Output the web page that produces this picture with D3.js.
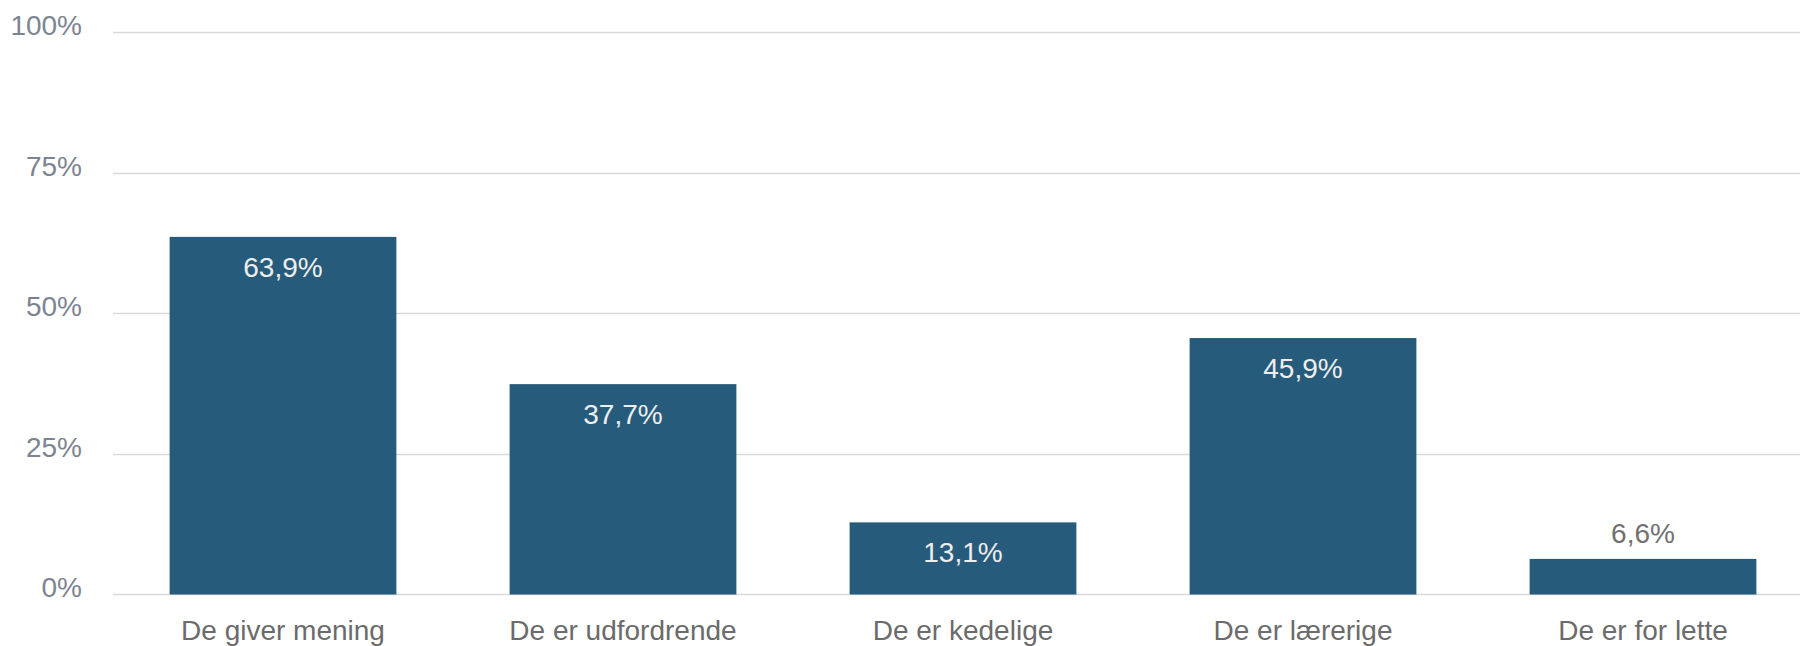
<!DOCTYPE html>
<html>
<head>
<meta charset="utf-8">
<script src="https://cdn.jsdelivr.net/npm/d3@7"></script>
<style>
html,body{margin:0;padding:0;background:#fff;}
svg{display:block;font-family:"Liberation Sans",Arial,sans-serif;}
</style>
</head>
<body>
<svg id="chart" width="1800" height="646"></svg>
<script>
const categories = ["De giver mening","De er udfordrende","De er kedelige","De er lærerige","De er for lette"];
const values = [63.9, 37.7, 13.1, 45.9, 6.6];
const valueLabels = ["63,9%","37,7%","13,1%","45,9%","6,6%"];
const yTicks = [0, 25, 50, 75, 100];
const yTickLabels = ["0%","25%","50%","75%","100%"];

const svg = d3.select("#chart");
const plotLeft = 113, plotRight = 1800, plotTop = 32, plotBottom = 594;
const barOffset = 2;

const x = d3.scaleBand().domain(categories).range([plotLeft, plotLeft + 5*340]).paddingInner(0.333).paddingOuter(0.1665);
const y = d3.scaleLinear().domain([0,100]).range([plotBottom, plotTop]);

// gridlines
svg.append("g").selectAll("line").data(yTicks).join("line")
  .attr("x1", plotLeft).attr("x2", plotRight)
  .attr("y1", d => Math.round(y(d)) + 0.5).attr("y2", d => Math.round(y(d)) + 0.5)
  .attr("stroke", "#d9d9d9").attr("stroke-width", 1.5);

// y tick labels
svg.append("g").selectAll("text").data(yTicks).join("text")
  .attr("x", 82).attr("y", d => y(d) + 3)
  .attr("text-anchor", "end")
  .attr("font-size", 28)
  .attr("fill", "#7d8491")
  .text((d,i) => yTickLabels[i]);

// bars
svg.append("g").selectAll("rect").data(values).join("rect")
  .attr("x", (d,i) => x(categories[i]))
  .attr("width", x.bandwidth())
  .attr("y", d => y(d) + barOffset)
  .attr("height", d => y(0) - y(d) - barOffset + 0.5)
  .attr("fill", "#275b7b");

// value labels
svg.append("g").selectAll("text").data(values).join("text")
  .attr("x", (d,i) => x(categories[i]) + x.bandwidth()/2)
  .attr("y", d => (y(0) - y(d) > 60) ? y(d) + barOffset + 40 : y(d) + barOffset - 16)
  .attr("text-anchor", "middle")
  .attr("font-size", 28)
  .attr("fill", d => (y(0) - y(d) > 60) ? "#eeeeee" : "#707070")
  .text((d,i) => valueLabels[i]);

// category labels
svg.append("g").selectAll("text").data(categories).join("text")
  .attr("x", d => x(d) + x.bandwidth()/2)
  .attr("y", 640)
  .attr("text-anchor", "middle")
  .attr("font-size", 28)
  .attr("fill", "#6b6b6b")
  .text(d => d);
</script>
</body>
</html>
